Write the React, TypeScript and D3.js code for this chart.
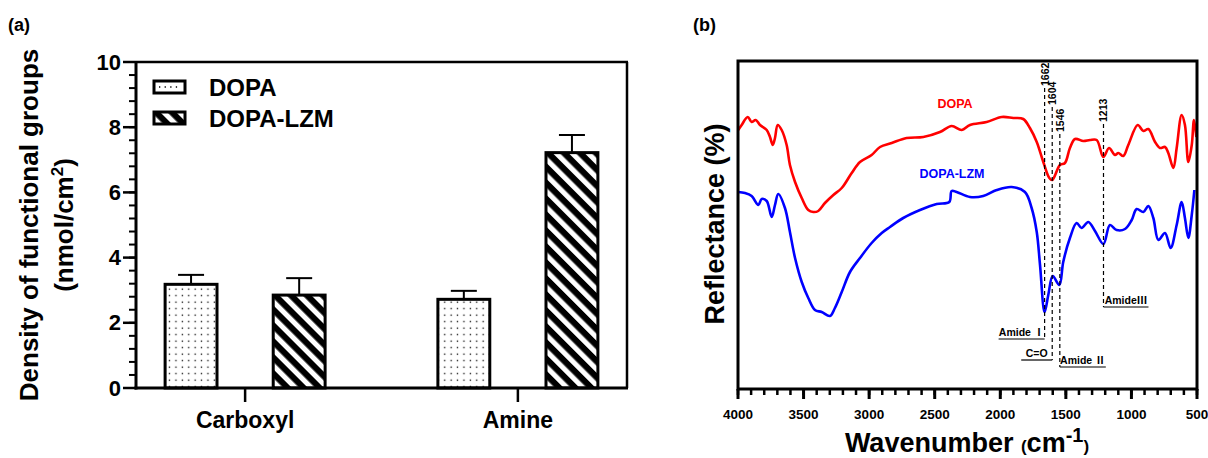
import React from "react";
import * as d3 from "d3";

const W = 1208;
const H = 458;
const FONT = "'Liberation Sans', Arial, Helvetica, sans-serif";

// ---- (a) density of functional groups ----
const categories = ["Carboxyl", "Amine"];
const seriesNames = ["DOPA", "DOPA-LZM"];
const dopaDensity = [3.18, 2.72];
const dopaErr = [0.29, 0.26];
const lzmDensity = [2.85, 7.22];
const lzmErr = [0.52, 0.54];
const yTicksA = [0, 2, 4, 6, 8, 10];

// ---- (b) reflectance spectra (arbitrary units) ----
const wavenumberTicks = [4000, 3500, 3000, 2500, 2000, 1500, 1000, 500];
const dopaSpectrum: [number, number][] = [
  [3998, 259], [3972, 264], [3926, 272], [3896, 267], [3865, 269], [3832, 264],
  [3781, 259], [3756, 252], [3735, 244], [3718, 251], [3697, 264], [3667, 259],
  [3629, 244], [3604, 224], [3565, 207], [3514, 191], [3464, 179], [3426, 177],
  [3388, 178], [3337, 186], [3273, 194], [3209, 201], [3133, 216], [3070, 227],
  [2981, 234], [2917, 242], [2828, 246], [2714, 251], [2587, 252], [2460, 257],
  [2371, 263], [2294, 259], [2231, 264], [2104, 267], [1989, 272], [1901, 271],
  [1825, 270], [1774, 261], [1722, 247], [1672, 227], [1626, 211], [1604, 209],
  [1545, 224], [1507, 226], [1469, 241], [1430, 250], [1367, 248], [1316, 249],
  [1265, 249], [1214, 232], [1171, 241], [1125, 234], [1100, 236], [1062, 233],
  [1024, 244], [952, 264], [909, 258], [871, 260], [820, 247], [782, 241],
  [744, 242], [719, 236], [680, 221], [655, 241], [617, 274], [592, 264],
  [566, 227], [540, 244], [523, 269], [505, 252],
];
const lzmSpectrum: [number, number][] = [
  [3998, 197], [3947, 196], [3896, 193], [3845, 184], [3819, 190], [3781, 188],
  [3743, 172], [3718, 184], [3693, 195], [3642, 181], [3604, 157], [3565, 131],
  [3514, 107], [3464, 91], [3413, 79], [3362, 77], [3299, 73], [3261, 81],
  [3209, 97], [3146, 117], [3070, 131], [2981, 146], [2904, 156], [2841, 162],
  [2740, 171], [2612, 179], [2485, 185], [2389, 187], [2371, 198], [2333, 197],
  [2231, 192], [2130, 193], [2027, 199], [1913, 202], [1812, 197], [1761, 181],
  [1722, 157], [1697, 124], [1662, 77], [1634, 94], [1600, 113], [1550, 104],
  [1520, 127], [1469, 151], [1418, 166], [1380, 161], [1329, 167], [1278, 158],
  [1213, 145], [1164, 164], [1113, 159], [1049, 160], [998, 169], [960, 180],
  [909, 177], [871, 183], [833, 171], [794, 149], [744, 156], [701, 141],
  [655, 164], [617, 187], [592, 171], [566, 151], [540, 174], [520, 199],
];
const peaks = [1662, 1604, 1546, 1213];
const bandNames = ["Amide Ⅰ", "C=O", "Amide Ⅱ", "AmideⅢ"];

// layout of the peak annotations (label bottom, line end, underline side/length)
const peakLayout = [
  { top: 86, end: 339, side: -1, len: 46 },
  { top: 105, end: 360, side: -1, len: 31 },
  { top: 132, end: 367, side: 1, len: 46 },
  { top: 122, end: 307, side: 1, len: 45 },
];

const A = { left: 136, right: 627, top: 62, bottom: 388 };
const B = { left: 738, right: 1197, top: 61, bottom: 389 };

function PanelA() {
  const y = d3.scaleLinear().domain([0, 10]).range([A.bottom, A.top]);
  const xGroup = d3.scalePoint<string>().domain(categories).range([A.left, A.right]).padding(0.4);
  const xInner = d3.scaleBand<string>().domain(seriesNames).range([-80, 80]).paddingInner(0.52);
  const bw = xInner.bandwidth();
  const minor = d3.range(0, 26).map((i) => i * 0.4);
  const values = [dopaDensity, lzmDensity];
  const errs = [dopaErr, lzmErr];
  const fills = ["url(#dots)", "url(#stripes)"];

  return (
    <g fontFamily={FONT} fontWeight="bold">
      <text x={8} y={31} fontSize={18}>(a)</text>

      {/* bars */}
      {categories.map((c, ci) =>
        seriesNames.map((s, si) => {
          const v = values[si][ci];
          const e = errs[si][ci];
          const x0 = (xGroup(c) as number) + (xInner(s) as number);
          const cx = x0 + bw / 2;
          return (
            <g key={c + s}>
              <line x1={cx} x2={cx} y1={y(v)} y2={y(v + e)} stroke="#000" strokeWidth={2} />
              <line x1={cx - 13} x2={cx + 13} y1={y(v + e)} y2={y(v + e)} stroke="#000" strokeWidth={2} />
              <rect x={x0} y={y(v)} width={bw} height={y(0) - y(v)} fill={fills[si]} stroke="#000" strokeWidth={3} />
            </g>
          );
        })
      )}

      {/* frame */}
      <line x1={A.left} x2={A.right + 1} y1={A.top} y2={A.top} stroke="#000" strokeWidth={2.5} />
      <line x1={A.right} x2={A.right} y1={A.top} y2={A.bottom} stroke="#000" strokeWidth={2.5} />
      <line x1={A.left} x2={A.left} y1={A.top - 1} y2={A.bottom + 1.5} stroke="#000" strokeWidth={3} />
      <line x1={A.left - 1.5} x2={A.right + 1} y1={A.bottom} y2={A.bottom} stroke="#000" strokeWidth={3} />

      {minor.map((t) => (
        <line key={t} x1={A.left - 7} x2={A.left} y1={y(t)} y2={y(t)} stroke="#000" strokeWidth={2} />
      ))}
      {yTicksA.map((t) => (
        <g key={t}>
          <line x1={A.left - 13} x2={A.left} y1={y(t)} y2={y(t)} stroke="#000" strokeWidth={2.5} />
          <text x={A.left - 15} y={y(t)} fontSize={22} textAnchor="end" dominantBaseline="central">{t}</text>
        </g>
      ))}
      {categories.map((c) => (
        <g key={c}>
          <line x1={xGroup(c)} x2={xGroup(c)} y1={A.bottom} y2={A.bottom + 14} stroke="#000" strokeWidth={2.5} />
          <text x={xGroup(c)} y={428} fontSize={23} textAnchor="middle">{c}</text>
        </g>
      ))}

      {/* y title */}
      <text transform={`translate(38,225) rotate(-90)`} fontSize={26} textAnchor="middle">
        Density of functional groups
      </text>
      <text transform={`translate(73,225) rotate(-90)`} fontSize={26} textAnchor="middle">
        (nmol/cm<tspan fontSize={17} dy={-10}>2</tspan><tspan dy={10}>)</tspan>
      </text>

      {/* legend */}
      <rect x={154} y={81} width={31} height={12} fill="#fff" stroke="#000" strokeWidth={3} />
      <line x1={159} x2={181} y1={87} y2={87} stroke="#000" strokeWidth={1.3} strokeDasharray="1.3 4.3" />
      <text x={209} y={87} fontSize={24} dominantBaseline="central">{seriesNames[0]}</text>
      <rect x={154} y={112} width={31} height={12} fill="url(#stripes)" stroke="#000" strokeWidth={3} />
      <text x={209} y={118} fontSize={24} dominantBaseline="central">{seriesNames[1]}</text>
    </g>
  );
}

function PanelB() {
  const x = d3.scaleLinear().domain([4000, 500]).range([B.left, B.right]);
  const y = d3.scaleLinear().domain([0, 328]).range([B.bottom, B.top]);
  const line = d3
    .line<[number, number]>()
    .x((d) => x(d[0]))
    .y((d) => y(d[1]))
    .curve(d3.curveCatmullRom.alpha(0.5));
  const minor = d3.range(500, 4001, 100);

  return (
    <g fontFamily={FONT} fontWeight="bold">
      <text x={693} y={31} fontSize={18}>(b)</text>

      <path d={line(dopaSpectrum) || ""} fill="none" stroke="#ff0000" strokeWidth={2.6} />
      <path d={line(lzmSpectrum) || ""} fill="none" stroke="#0000ff" strokeWidth={2.6} />

      <text x={955} y={104} fontSize={12.5} fill="#ff0000" textAnchor="middle" dominantBaseline="central">DOPA</text>
      <text x={952} y={174} fontSize={12.5} fill="#0000ff" textAnchor="middle" dominantBaseline="central">DOPA-LZM</text>

      {/* peak annotations */}
      {peaks.map((p, i) => {
        const px = x(p);
        const L = peakLayout[i];
        const ux1 = L.side < 0 ? px - L.len : px;
        const ux2 = L.side < 0 ? px : px + L.len;
        return (
          <g key={p}>
            <text
              transform={`translate(${px},${L.top}) rotate(-90)`}
              fontSize={10.5}
              dominantBaseline="central"
            >
              {p}
            </text>
            <line x1={px} x2={px} y1={L.top + 2} y2={L.end} stroke="#000" strokeWidth={1.2} strokeDasharray="4 3" />
            <line x1={ux1} x2={ux2} y1={L.end} y2={L.end} stroke="#000" strokeWidth={1.2} />
            <text x={(ux1 + ux2) / 2} y={L.end - 3} fontSize={10.5} textAnchor="middle"
              fontFamily={`${FONT}, 'Noto Sans CJK SC'`}>
              {bandNames[i]}
            </text>
          </g>
        );
      })}

      {/* frame & axis */}
      <rect x={B.left} y={B.top} width={B.right - B.left} height={B.bottom - B.top} fill="none" stroke="#000" strokeWidth={3} />
      {minor.map((t) => (
        <line key={t} x1={x(t)} x2={x(t)} y1={B.bottom} y2={B.bottom + 6} stroke="#000" strokeWidth={2.5} />
      ))}
      {wavenumberTicks.map((t) => (
        <g key={t}>
          <line x1={x(t)} x2={x(t)} y1={B.bottom} y2={B.bottom + 10} stroke="#000" strokeWidth={3} />
          <text x={x(t)} y={414} fontSize={13.5} textAnchor="middle" dominantBaseline="central">{t}</text>
        </g>
      ))}

      <text x={967} y={452} fontSize={27} textAnchor="middle">
        Wavenumber <tspan fontSize={17}>(</tspan>cm<tspan fontSize={20} dy={-10}>-1</tspan>
        <tspan fontSize={17} dy={10}>)</tspan>
      </text>
      <text transform={`translate(724,224) rotate(-90)`} fontSize={27} textAnchor="middle">
        Reflectance (%)
      </text>
    </g>
  );
}

export default function App() {
  return (
    <div style={{ position: "absolute", left: 0, top: 0 }}>
      <svg width={W} height={H} viewBox={`0 0 ${W} ${H}`} style={{ display: "block", background: "#fff" }}>
        <defs>
          <pattern id="dots" width={6.4} height={6.5} patternUnits="userSpaceOnUse">
            <rect width={6.4} height={6.5} fill="#fff" />
            <rect x={2.5} y={2.5} width={1.3} height={1.3} fill="#000" />
          </pattern>
          <pattern id="stripes" width={11.3} height={11.3} patternUnits="userSpaceOnUse" patternTransform="rotate(45)">
            <rect width={11.3} height={11.3} fill="#fff" />
            <rect width={11.3} height={6.2} fill="#000" />
          </pattern>
        </defs>
        <rect width={W} height={H} fill="#fff" />
        <PanelA />
        <PanelB />
      </svg>
    </div>
  );
}
